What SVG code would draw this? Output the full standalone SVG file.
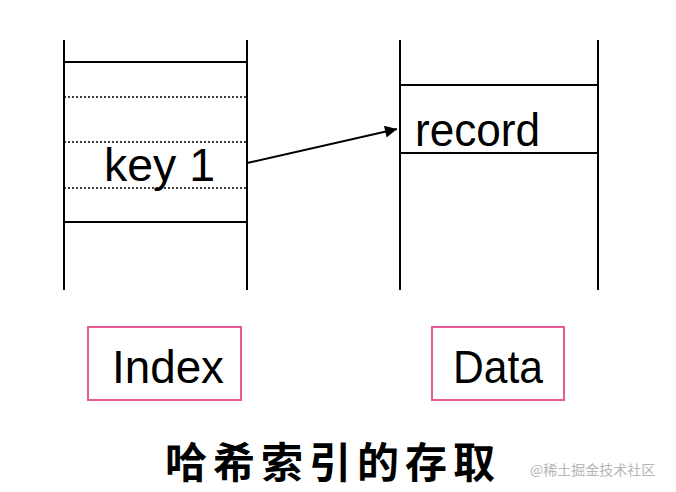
<svg xmlns="http://www.w3.org/2000/svg" width="676" height="492" viewBox="0 0 676 492">
<style>
.ln{stroke:#000;stroke-width:2;fill:none}
.dot{stroke:#000;stroke-width:1.5;stroke-dasharray:2 2;fill:none}
.lbl{font-family:"Liberation Sans",Arial,sans-serif;font-size:46px;fill:#000}
.box{fill:#fff;stroke:#e75a94;stroke-width:2}
.title{font-family:"Noto Sans CJK SC","Noto Sans CJK JP",sans-serif;font-size:42px;font-weight:bold;fill:#000;letter-spacing:6px}
.wm{font-family:"Noto Sans CJK SC",sans-serif;font-size:14px;fill:#b5b5b5}
</style>
<defs>
<marker id="ah" viewBox="0 0 10 10" refX="10" refY="5" markerWidth="13" markerHeight="12" markerUnits="userSpaceOnUse" orient="auto">
<path d="M0,0 L10,5 L0,10 Z" fill="#000"/>
</marker>
</defs>
<g id="index-table">
<line class="ln" x1="64" y1="40" x2="64" y2="290"/>
<line class="ln" x1="247" y1="40" x2="247" y2="290"/>
<line class="ln" x1="64" y1="62" x2="247" y2="62"/>
<line class="ln" x1="64" y1="222" x2="247" y2="222"/>
<line class="dot" x1="64" y1="97" x2="247" y2="97"/>
<line class="dot" x1="64" y1="142" x2="247" y2="142"/>
<line class="dot" x1="64" y1="188" x2="247" y2="188"/>
<text class="lbl" x="104" y="181" textLength="111" lengthAdjust="spacingAndGlyphs">key 1</text>
</g>
<g id="data-table">
<line class="ln" x1="400" y1="40" x2="400" y2="290"/>
<line class="ln" x1="598" y1="40" x2="598" y2="290"/>
<line class="ln" x1="400" y1="85" x2="598" y2="85"/>
<line class="ln" x1="400" y1="153" x2="598" y2="153"/>
<text class="lbl" x="415" y="146" textLength="125" lengthAdjust="spacingAndGlyphs">record</text>
</g>
<g id="connectors">
<line class="ln" x1="247" y1="163" x2="397" y2="129" marker-end="url(#ah)"/>
</g>
<g id="index-label">
<rect class="box" x="88" y="327" width="153" height="73"/>
<text class="lbl" x="112" y="383" textLength="112" lengthAdjust="spacingAndGlyphs">Index</text>
</g>
<g id="data-label">
<rect class="box" x="432" y="327" width="132" height="73"/>
<text class="lbl" x="453" y="383" textLength="90" lengthAdjust="spacingAndGlyphs">Data</text>
</g>
<text class="title" x="165" y="478">哈希索引的存取</text>
<text class="wm" x="530" y="475">@稀土掘金技术社区</text>
</svg>
